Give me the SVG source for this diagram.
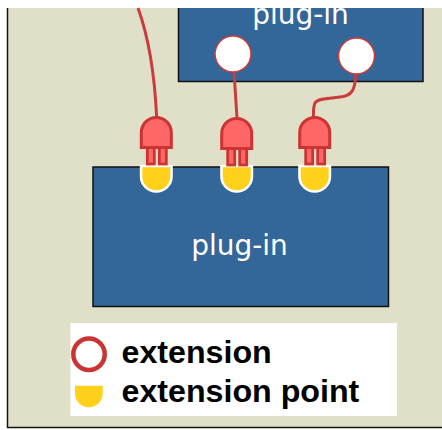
<svg xmlns="http://www.w3.org/2000/svg" width="442" height="430" viewBox="0 0 442 430">
<defs>
<style>
.box{fill:#336699;stroke:#111;stroke-width:1.5}
.ext{fill:#fff;stroke:#c83c3c;stroke-width:1.5}
.wire{fill:none;stroke:#c83c3c;stroke-width:3}
.plug{fill:#ff6666;stroke:#cc3333;stroke-width:3}
.pin{fill:#ff6666;stroke:#cc3333;stroke-width:2.800}
.pt{fill:#ffd11a;stroke:#fff;stroke-width:2.500}
.lbl{font-family:"DejaVu Sans",Verdana,sans-serif;font-size:28px;fill:#fff;text-anchor:middle}
.leg{font-family:"Liberation Sans",Arial,sans-serif;font-size:32.200px;font-weight:bold;fill:#000}
</style>
<g id="plugshape">
<rect class="pin" x="-9" y="30" width="7" height="16.500"/>
<rect class="pin" x="3" y="30" width="7" height="16.500"/>
<path class="plug" d="M-15 30V15A15 15 0 0 1 15 15V30Z"/>
</g>
<path id="ptshape" class="pt" d="M-15.250 0H15.250V10.500A15.250 15 0 0 1 -15.250 10.500Z"/>
</defs>
<rect width="442" height="430" fill="#fff"/>
<g id="background"><path d="M7.500 8V427.500H442V8Z" fill="#e0e0c8"/><path d="M7.500 8V427.500H442" fill="none" stroke="#111" stroke-width="1.500"/></g>
<g id="plugin-top"><rect class="box" x="178.500" y="-20" width="244.500" height="101.500"/>
<text class="lbl" x="300.500" y="23.500">plug-in</text></g>
<g id="plugin-bottom"><rect class="box" x="93" y="167" width="295.500" height="139.500"/>
<text class="lbl" x="239.500" y="255">plug-in</text></g>
<rect x="0" y="0" width="442" height="8" fill="#fff"/>
<g id="connectors">
<path class="wire" d="M138 8C146 30 154 60 156.700 118"/>
<path class="wire" d="M234 72L237 118"/>
<path class="wire" d="M356 74C355 90 352 96 340 97C328 99 318 98 315 103C313 107 313.500 112 313.500 118"/>
</g>
<g id="ext1"><circle class="ext" cx="233" cy="54" r="18"/></g>
<g id="ext2"><circle class="ext" cx="356.500" cy="56" r="18"/></g>
<g id="point1"><use href="#ptshape" x="156.300" y="166"/></g>
<g id="point2"><use href="#ptshape" x="236.700" y="166"/></g>
<g id="point3"><use href="#ptshape" x="314.700" y="166"/></g>
<g id="plug1"><use href="#plugshape" x="156.300" y="117.500"/></g>
<g id="plug2"><use href="#plugshape" x="236.700" y="118.500"/></g>
<g id="plug3"><use href="#plugshape" x="314.700" y="117.500"/></g>
<g id="legend"><rect x="70.500" y="323" width="326.500" height="93" fill="#fff"/>
<circle cx="89" cy="354.300" r="15.700" fill="#fff" stroke="#cc3333" stroke-width="4.500"/>
<path d="M75 385.700H102.700V393.500A13.850 13.850 0 0 1 75 393.500Z" fill="#ffd11a"/>
<text class="leg" x="121.500" y="362.700">extension</text>
<text class="leg" x="121.500" y="401.700">extension point</text></g>
</svg>
